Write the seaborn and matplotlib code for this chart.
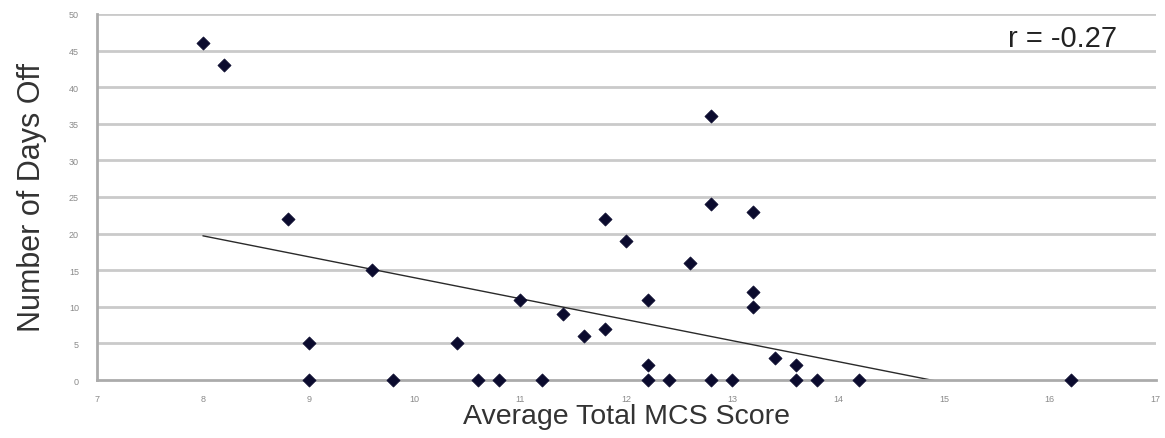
import numpy as np
import pandas as pd
import seaborn as sns
import matplotlib
matplotlib.use('Agg')
import matplotlib.pyplot as plt

# data
mcs_score = [8.0, 8.2, 8.8, 9.0, 9.0, 9.6, 9.8, 10.4, 10.6, 10.8,
             11.0, 11.2, 11.4, 11.6, 11.8, 11.8, 12.0, 12.2, 12.2, 12.2,
             12.4, 12.6, 12.8, 12.8, 12.8, 13.0, 13.2, 13.2, 13.2, 13.4,
             13.6, 13.6, 13.8, 14.2, 16.2]
days_off = [46, 43, 22, 5, 0, 15, 0, 5, 0, 0,
            11, 0, 9, 6, 7, 22, 19, 11, 2, 0,
            0, 16, 36, 24, 0, 0, 23, 12, 10, 3,
            2, 0, 0, 0, 0]
x_ticks = [7, 8, 9, 10, 11, 12, 13, 14, 15, 16, 17]
y_ticks = [0, 5, 10, 15, 20, 25, 30, 35, 40, 45, 50]
r_label = 'r = -0.27'
# linear trendline as drawn in the chart
trend_slope = -2.863
trend_intercept = 42.6

df = pd.DataFrame({'mcs': mcs_score, 'days': days_off})
x_line = np.array([min(mcs_score), max(mcs_score)])
trend = pd.DataFrame({'mcs': x_line, 'days': trend_intercept + trend_slope * x_line})

sns.set_theme(style='white')
plt.rcParams['font.family'] = ['Liberation Sans', 'DejaVu Sans']

fig = plt.figure(figsize=(11.65, 4.39), dpi=100)
ax = fig.add_axes([0.0833, 0.132, 0.9087, 0.834])

# grid
for v in y_ticks[1:]:
    ax.axhline(v, color='#cacaca', lw=2.0, zorder=0)

sns.lineplot(data=trend, x='mcs', y='days', ax=ax, color='#2a2a2a', lw=1.0, zorder=2)
sns.scatterplot(data=df, x='mcs', y='days', ax=ax, marker='D', s=45,
                color='#0b0b2e', edgecolor='#0b0b2e', linewidth=0.5, zorder=3,
                clip_on=False)

ax.set_xlim(7, 17)
ax.set_ylim(0, 50)
ax.set_xticks(x_ticks)
ax.set_yticks(y_ticks)
ax.tick_params(axis='both', labelsize=6.5, colors='#8a8a8a', length=3, width=1,
               direction='out')
ax.tick_params(axis='y', pad=10)
ax.tick_params(axis='x', pad=7)
for side in ['top', 'right']:
    ax.spines[side].set_visible(False)
for side in ['left', 'bottom']:
    ax.spines[side].set_color('#ababab')
    ax.spines[side].set_linewidth(2)

ax.set_xlabel('Average Total MCS Score', fontsize=20.5, color='#333333', labelpad=0)
ax.set_ylabel('Number of Days Off', fontsize=22, color='#333333', labelpad=16)
ax.text(0.964, 0.935, r_label, transform=ax.transAxes, ha='right', va='center',
        fontsize=21, color='#222222')

fig.savefig('out.png', dpi=100)
